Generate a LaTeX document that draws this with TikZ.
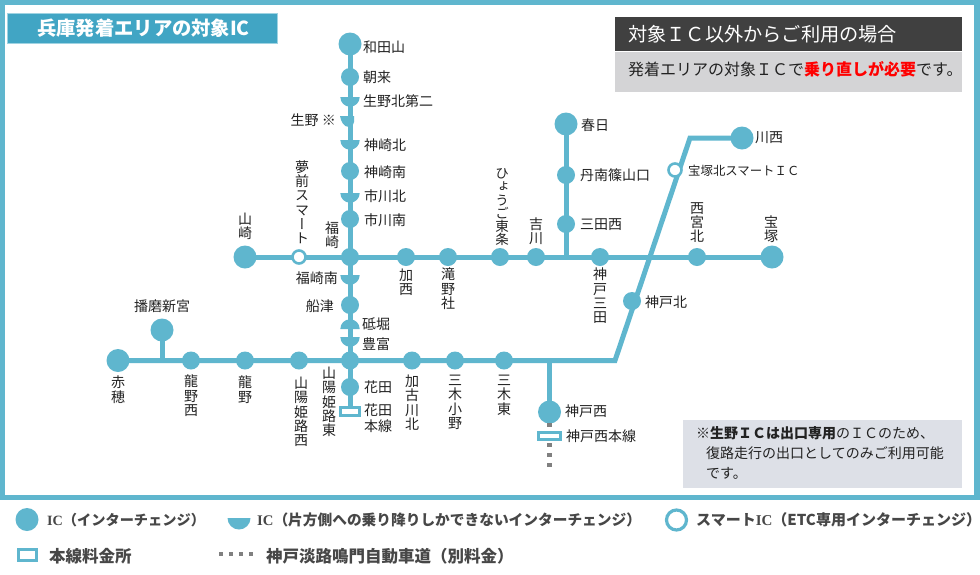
\documentclass[tikz,border=0pt]{standalone}
\usepackage{fontspec}
\usetikzlibrary{backgrounds}
\setmainfont{Noto Sans CJK JP}
\newfontfamily\vf[RawFeature=+vert]{Noto Sans CJK JP}
\newfontfamily\slabf{Liberation Serif}
\definecolor{teal1}{HTML}{5FB6CE}
\definecolor{titleblue}{HTML}{41A5C4}
\definecolor{ink}{HTML}{222222}
\definecolor{notegray}{HTML}{DDE0E7}
\definecolor{infogray}{HTML}{D4D4D6}
\newcommand{\halfd}[3]{\fill[teal1] (#1-#3,#2) arc[start angle=180,end angle=0,radius=#3] -- cycle;}
\newcommand{\halfu}[3]{\fill[teal1] (#1-#3,#2) arc[start angle=180,end angle=360,radius=#3] -- cycle;}
\tikzset{
 x=1pt,y=-1pt,
 ic/.style={circle,fill=teal1,minimum size=18pt,inner sep=0pt},
 icl/.style={circle,fill=teal1,minimum size=23pt,inner sep=0pt},
 smart/.style={circle,draw=teal1,fill=white,line width=2.6pt,minimum size=13pt,inner sep=0pt},
 hw/.style={draw=teal1,line width=5pt},
 tollbox/.style={draw=teal1,fill=white,line width=2.6pt,minimum width=19pt,minimum height=8pt,inner sep=0pt},
 lab/.style={font=\fontsize{14}{15}\selectfont,text=ink,inner sep=0pt},
 labr/.style={lab,anchor=west},
 labv/.style={font=\vf\fontsize{14}{14.2}\selectfont,text=ink,inner sep=0pt,align=center,anchor=north},
 leg/.style={font=\bfseries\fontsize{15}{17}\selectfont,text=black!72,anchor=west,inner sep=0pt},
 legb/.style={font=\bfseries\fontsize{16.5}{18}\selectfont,text=black!72,anchor=west,inner sep=0pt},
 dot/.style={fill=black!50,minimum size=4.5pt,inner sep=0pt},
}
\begin{document}
\begin{tikzpicture}
\useasboundingbox (0,0) rectangle (980,574);
% title
\node[fill=titleblue,draw=teal1!60!white,line width=.8pt,minimum width=270pt,minimum height=30pt,anchor=north west,inner sep=0pt] (title) at (7,13) {};
\node[font=\bfseries\fontsize{19.3}{20}\selectfont,text=white,anchor=west,inner sep=0pt] (titlet) at (37,28) {兵庫発着エリアの対象IC};
% info box
\node[fill=black!75,minimum width=347pt,minimum height=34pt,anchor=north west,inner sep=0pt] (ibox) at (615,17) {};
\node[fill=infogray,minimum width=347pt,minimum height=40pt,anchor=north west,inner sep=0pt] (gbox) at (615,52) {};
\node[font=\fontsize{19.2}{20}\selectfont,text=white,anchor=west,inner sep=0pt] (ibt) at (628,34.5) {対象ＩＣ以外からご利用の場合};
\node[font=\fontsize{16}{18}\selectfont,text=ink,anchor=west,inner sep=0pt] (gbt) at (628,69) {発着エリアの対象ＩＣで{\bfseries\color{red}乗り直しが必要}です。};
% note box
\node[fill=notegray,minimum width=279pt,minimum height=68pt,anchor=north west,inner sep=0pt] (nbox) at (683,420) {};
\node[font=\fontsize{14}{20}\selectfont,text=ink,anchor=north west,inner sep=0pt,align=left] (nbt) at (696,426) {※{\bfseries 生野ＩＣは出口専用}のＩＣのため、\\\hspace*{10pt}復路走行の出口としてのみご利用可能\\\hspace*{10pt}です。};
% coordinates
\coordinate (bendA) at (690,138);
\coordinate (bendB) at (615,360.5);
\coordinate (j1) at (566,257);
\coordinate (j2) at (162,360.5);
\coordinate (j3) at (549.5,360.5);
% nodes
\path
 (350,44) node[icl] (wadayama) {}
 (350,77) node[ic] (asago) {}
 (350,171) node[ic] (kanzakiminami) {}
 (350,219) node[ic] (ichikawaminami) {}
 (350,257) node[ic] (fukusaki) {}
 (350,305) node[ic] (funatsu) {}
 (350,360.5) node[ic] (himejihigashi) {}
 (350,387) node[ic] (hanada) {}
 (245,257) node[icl] (yamasaki) {}
 (406,257) node[ic] (kasai) {}
 (448,257) node[ic] (takino) {}
 (500,257) node[ic] (tojo) {}
 (536,257) node[ic] (yokawa) {}
 (600,257) node[ic] (sanda) {}
 (697,257) node[ic] (nishinomiya) {}
 (772,257) node[icl] (takarazuka) {}
 (566,124) node[icl] (kasuga) {}
 (566,175) node[ic] (tamba) {}
 (566,224) node[ic] (sandanishi) {}
 (742,138) node[icl] (kawanishi) {}
 (632,301) node[ic] (kobekita) {}
 (118,360.5) node[icl] (ako) {}
 (162,330) node[icl] (harima) {}
 (191,360.5) node[ic] (tatsunonishi) {}
 (245,360.5) node[ic] (tatsuno) {}
 (299,360.5) node[ic] (himejinishi) {}
 (412,360.5) node[ic] (kakogawa) {}
 (455,360.5) node[ic] (miki) {}
 (504,360.5) node[ic] (mikihigashi) {}
 (549.5,412) node[icl] (kobenishi) {};
\node[smart] (yumesaki) at (299,257) {};
\node[smart] (takakita) at (675,170) {};
\node[tollbox] (hanadabox) at (350,411.5) {};
\node[tollbox,minimum width=22pt,minimum height=7pt] (kobenbox) at (549.5,436) {};
\node[dot] (d0) at (549.5,425) {};
\node[dot] (d1) at (549.5,445) {};
\node[dot] (d2) at (549.5,455) {};
\node[dot] (d3) at (549.5,465) {};
% lines, frame
\begin{pgfonlayer}{background}
\fill[white] (0,0) rectangle (980,574);
\draw[teal1,line width=5.5pt] (2.5,2.5) rectangle (977,497.5);
\draw[hw] (wadayama.center) -- (hanadabox.north);
\draw[hw] (yamasaki.center) -- (takarazuka.center);
\draw[hw] (kasuga.center) -- (j1);
\draw[hw,line join=miter] (kawanishi.center) -- (bendA) -- (bendB) -- (ako.center);
\draw[hw] (harima.center) -- (j2);
\draw[hw] (j3) -- (kobenishi.center);
\end{pgfonlayer}
% half ICs
\halfd{350}{97}{9.7}
\halfd{350}{140}{9.7}
\halfd{350}{193}{9.7}
\halfd{350}{275}{9.7}
\halfd{350}{337}{9.7}
\halfu{350}{329}{9.7}
\fill[teal1] (340,116) -- (354,116) -- (354,122) .. controls (354,125) and (352,127) .. (349,127) .. controls (344,127) and (341,122) .. (340,116) -- cycle;
% right labels
\node[labr] at (363,47) {和田山};
\node[labr] at (363,77) {朝来};
\node[labr] at (363,101) {生野北第二};
\node[lab,anchor=east] at (336,120) {生野 ※};
\node[labr] at (364,145) {神崎北};
\node[labr] at (364,172) {神崎南};
\node[labr] at (364,196) {市川北};
\node[labr] at (364,220) {市川南};
\node[lab,anchor=east] at (338,278) {福崎南};
\node[lab,anchor=east] at (334,306) {船津};
\node[labr] at (362,324) {砥堀};
\node[labr] at (362,344) {豊富};
\node[labr] at (364,387) {花田};
\node[lab,anchor=north west,align=left,font=\fontsize{14}{15.5}\selectfont] at (364,404) {花田\\本線};
\node[labr] at (581,125) {春日};
\node[labr] at (580,175) {丹南篠山口};
\node[labr] at (580,225) {三田西};
\node[labr] at (755,138) {川西};
\node[labr,font=\fontsize{12.4}{14}\selectfont] at (688,171) {宝塚北スマートＩＣ};
\node[labr] at (645,302) {神戸北};
\node[labr] at (565,411) {神戸西};
\node[labr] at (566,436) {神戸西本線};
% vertical labels above
\node[labv,anchor=south] at (302,244) {夢\\前\\ス\\マ\\ー\\ト};
\node[labv,anchor=south] at (332,249) {福\\崎};
\node[labv,anchor=south] at (245,240) {山\\崎};
\node[labv,anchor=south,font=\vf\fontsize{13.5}{13.2}\selectfont] at (502,246) {ひ\\ょ\\う\\ご\\東\\条};
\node[labv,anchor=south] at (536,245) {吉\\川};
\node[labv,anchor=south] at (697,243) {西\\宮\\北};
\node[labv,anchor=south] at (771,243) {宝\\塚};
% vertical labels below
\node[labv] at (406,269) {加\\西};
\node[labv] at (448,268) {滝\\野\\社};
\node[labv] at (600,268) {神\\戸\\三\\田};
\node[labv] at (118,376) {赤\\穂};
\node[labv] at (191,375) {龍\\野\\西};
\node[labv] at (245,376) {龍\\野};
\node[labv] at (301,377) {山\\陽\\姫\\路\\西};
\node[labv] at (329,367) {山\\陽\\姫\\路\\東};
\node[labv] at (412,375) {加\\古\\川\\北};
\node[labv] at (455,375) {三\\木\\小\\野};
\node[labv] at (504,375) {三\\木\\東};
\node[lab] at (162,306) {播磨新宮};
% legend
\node[icl] (lg1) at (27,519.5) {};
\node[leg,font=\bfseries\fontsize{14.2}{17}\selectfont] at (47,520) {{\slabf IC}（インターチェンジ）};
\halfd{239}{518}{11.5}
\node[leg,font=\bfseries\fontsize{14.7}{17}\selectfont] at (257,520) {{\slabf IC}（片方側への乗り降りしかできないインターチェンジ）};
\node[smart,minimum size=20pt,line width=3.2pt] (lg3) at (676.5,520) {};
\node[leg] at (696,520) {スマート{\slabf IC}（ETC専用インターチェンジ）};
\node[tollbox,minimum width=18pt,minimum height=11pt,line width=3pt] (lg4) at (27.5,555) {};
\node[legb] at (49,556) {本線料金所};
\foreach \q in {221,231,241,251} \node[dot] at (\q,554) {};
\node[legb] at (266,556) {神戸淡路鳴門自動車道（別料金）};
\end{tikzpicture}
\end{document}
